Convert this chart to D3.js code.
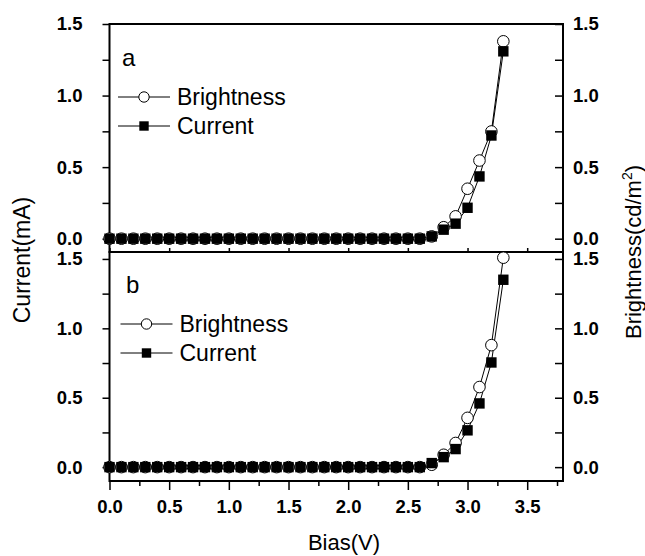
<!DOCTYPE html>
<html>
<head>
<meta charset="utf-8">
<script src="https://cdn.jsdelivr.net/npm/d3@7"></script>
<style>
  body { margin: 0; background: #fff; }
  text { font-family: "Liberation Sans", Arial, sans-serif; }
</style>
</head>
<body>
<div id="chart"></div>
<script>
// bias voltage (V)
const bias = [0.0, 0.1, 0.2, 0.3, 0.4, 0.5, 0.6, 0.7, 0.8, 0.9,
              1.0, 1.1, 1.2, 1.3, 1.4, 1.5, 1.6, 1.7, 1.8, 1.9,
              2.0, 2.1, 2.2, 2.3, 2.4, 2.5, 2.6, 2.7, 2.8, 2.9,
              3.0, 3.1, 3.2, 3.3];

// panel a
const brightnessA = [0, 0, 0, 0, 0, 0, 0, 0, 0, 0, 0, 0, 0, 0, 0, 0, 0, 0, 0, 0,
                     0, 0, 0, 0, 0, 0, 0, 0.016, 0.08, 0.156, 0.349, 0.546, 0.749, 1.379];
const currentA = [0, 0, 0, 0, 0, 0, 0, 0, 0, 0, 0, 0, 0, 0, 0, 0, 0, 0, 0, 0,
                  0, 0, 0, 0, 0, 0, 0, 0.016, 0.063, 0.105, 0.216, 0.435, 0.721, 1.309];

// panel b
const brightnessB = [0, 0, 0, 0, 0, 0, 0, 0, 0, 0, 0, 0, 0, 0, 0, 0, 0, 0, 0, 0,
                     0, 0, 0, 0, 0, 0, 0, 0.017, 0.089, 0.174, 0.355, 0.577, 0.879, 1.509];
const currentB = [0, 0, 0, 0, 0, 0, 0, 0, 0, 0, 0, 0, 0, 0, 0, 0, 0, 0, 0, 0,
                  0, 0, 0, 0, 0, 0, 0, 0.029, 0.072, 0.13, 0.265, 0.459, 0.754, 1.35];

const xMajor = [0, 0.5, 1.0, 1.5, 2.0, 2.5, 3.0, 3.5];
const xMinor = [0.25, 0.75, 1.25, 1.75, 2.25, 2.75, 3.25, 3.75];
const yTicks = [0, 0.25, 0.5, 0.75, 1.0, 1.25, 1.5];

const width = 645, height = 556;
const left = 109.5, right = 563;
const R = 5.8, S = 10.4;   // marker sizes

const svg = d3.select("#chart").append("svg")
  .attr("width", width)
  .attr("height", height);

const x = d3.scaleLinear().domain([0, 3.8]).range([left, right]);

const panels = [
  { label: "a", bright: brightnessA, curr: currentA,
    y: d3.scaleLinear().domain([-0.1, 1.5]).range([253, 24]),
    top: 24, bottom: 252, legY: 97, legX: 118, labelX: 122, labelY: 66 },
  { label: "b", bright: brightnessB, curr: currentB,
    y: d3.scaleLinear().domain([-0.1, 1.55]).range([481, 252]),
    top: 252, bottom: 481, legY: 324, legX: 120.5, labelX: 126, labelY: 293 }
];

const yFmt = d => (Math.round(d * 4) % 2 === 0 ? d3.format(".1f")(d) : "");

panels.forEach((p, i) => {
  const g = svg.append("g");

  // left axis
  g.append("g")
    .attr("transform", "translate(" + left + ",0)")
    .call(d3.axisLeft(p.y).tickValues(yTicks).tickSize(7).tickPadding(20).tickFormat(yFmt))
    .call(a => a.select(".domain").remove())
    .call(a => a.selectAll("text").attr("font-size", 18.5).attr("font-weight", "bold"))
    .call(a => a.selectAll("line").attr("stroke-width", 1.5));

  // right axis, ticks pointing in
  g.append("g")
    .attr("transform", "translate(" + right + ",0)")
    .call(d3.axisRight(p.y).tickValues(yTicks).tickSizeInner(-8).tickSizeOuter(0).tickPadding(10).tickFormat(yFmt))
    .call(a => a.select(".domain").remove())
    .call(a => a.selectAll("text").attr("font-size", 18.5).attr("font-weight", "bold"))
    .call(a => a.selectAll("line").attr("stroke-width", 1.5));

  if (i === 0) {
    // inner ticks on the shared border
    g.append("g")
      .attr("transform", "translate(0," + p.bottom + ")")
      .call(d3.axisBottom(x).tickValues(xMajor).tickSize(-4).tickFormat(""))
      .call(a => a.select(".domain").remove())
      .call(a => a.selectAll("line").attr("stroke-width", 1.5));
  } else {
    g.append("g")
      .attr("transform", "translate(0," + p.bottom + ")")
      .call(d3.axisBottom(x).tickValues(xMajor).tickSize(9).tickPadding(10).tickFormat(d3.format(".1f")))
      .call(a => a.select(".domain").remove())
      .call(a => a.selectAll("text").attr("font-size", 18.5).attr("font-weight", "bold"))
      .call(a => a.selectAll("line").attr("stroke-width", 1.5));
    g.append("g")
      .attr("transform", "translate(0," + p.bottom + ")")
      .call(d3.axisBottom(x).tickValues(xMinor).tickSize(5).tickFormat(""))
      .call(a => a.select(".domain").remove())
      .call(a => a.selectAll("line").attr("stroke-width", 1.5));
  }

  // frame
  g.append("rect")
    .attr("x", left).attr("y", p.top)
    .attr("width", right - left).attr("height", p.bottom - p.top)
    .attr("fill", "none").attr("stroke", "#000").attr("stroke-width", 2);

  const line = vals => d3.line().x((d, j) => x(bias[j])).y(d => p.y(d))(vals);

  g.append("path").attr("d", line(p.bright))
    .attr("fill", "none").attr("stroke", "#000").attr("stroke-width", 1);
  g.append("path").attr("d", line(p.curr))
    .attr("fill", "none").attr("stroke", "#000").attr("stroke-width", 1);

  g.selectAll("circle.pt").data(p.bright).enter().append("circle")
    .attr("class", "pt")
    .attr("cx", (d, j) => x(bias[j]))
    .attr("cy", d => p.y(d))
    .attr("r", R)
    .attr("fill", "#fff").attr("stroke", "#000").attr("stroke-width", 1);

  g.selectAll("rect.pt").data(p.curr).enter().append("rect")
    .attr("class", "pt")
    .attr("x", (d, j) => x(bias[j]) - S / 2)
    .attr("y", d => p.y(d) - S / 2)
    .attr("width", S).attr("height", S)
    .attr("fill", "#000");

  // panel label
  g.append("text")
    .attr("x", p.labelX).attr("y", p.labelY)
    .attr("font-size", 24)
    .text(p.label);

  // legend
  const leg = g.append("g").attr("transform", "translate(" + p.legX + "," + p.legY + ")");
  [["Brightness", "circle"], ["Current", "square"]].forEach((it, k) => {
    const row = leg.append("g").attr("transform", "translate(0," + k * 29 + ")");
    row.append("line").attr("x1", 0).attr("x2", 52).attr("y1", 0).attr("y2", 0)
      .attr("stroke", "#000").attr("stroke-width", 1);
    if (it[1] === "circle") {
      row.append("circle").attr("cx", 26).attr("cy", 0).attr("r", 5.2)
        .attr("fill", "#fff").attr("stroke", "#000");
    } else {
      row.append("rect").attr("x", 21.3).attr("y", -4.7).attr("width", 9.4).attr("height", 9.4)
        .attr("fill", "#000");
    }
    row.append("text").attr("x", 59).attr("y", 0).attr("dy", "0.35em")
      .attr("font-size", 23).text(it[0]);
  });
});

// axis titles
svg.append("text")
  .attr("x", 344).attr("y", 550)
  .attr("text-anchor", "middle")
  .attr("font-size", 22)
  .text("Bias(V)");

svg.append("text")
  .attr("transform", "translate(30,260) rotate(-90)")
  .attr("text-anchor", "middle")
  .attr("font-size", 23)
  .text("Current(mA)");

const rt = svg.append("text")
  .attr("transform", "translate(641,252) rotate(-90)")
  .attr("text-anchor", "middle")
  .attr("font-size", 22);
rt.append("tspan").text("Brightness(cd/m");
rt.append("tspan").attr("font-size", 14).attr("dy", "-9").text("2");
rt.append("tspan").attr("dy", "9").text(")");
</script>
</body>
</html>
